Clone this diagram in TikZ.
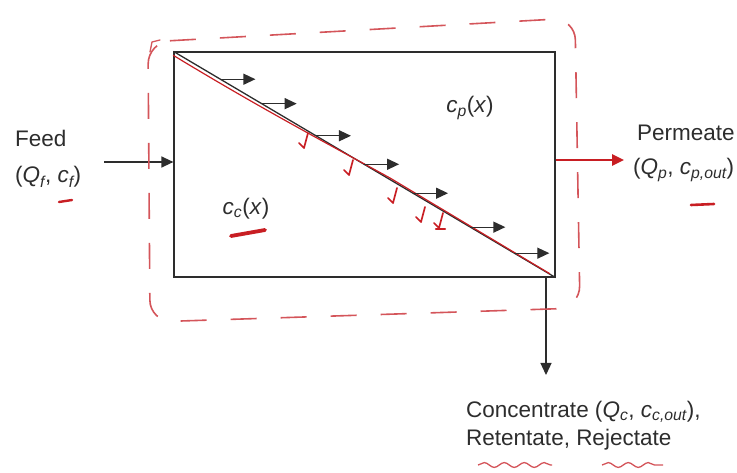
\documentclass[tikz,border=0pt]{standalone}
\usepackage{fontspec}
\setmainfont{Liberation Sans}
\usetikzlibrary{arrows.meta,calc,decorations.pathmorphing}
\definecolor{ink}{RGB}{45,45,45}
\definecolor{pen}{RGB}{200,30,35}
\definecolor{penlight}{RGB}{212,85,90}
\newcommand{\isub}[1]{\textsubscript{\itshape #1}}
\begin{document}
\begin{tikzpicture}[x=1pt,y=-1pt,
  flow/.style={draw=ink, line width=1.3pt, -{Triangle[length=12pt,width=11pt]}},
  lbl/.style={font=\fontsize{22.5}{26}\selectfont, text=ink, inner sep=0pt, anchor=west},
  redpen/.style={draw=pen, line width=1.3pt, line cap=round, line join=round},
  boundary/.style={draw=penlight, line width=1.6pt, dash pattern=on 26pt off 24pt, rounded corners=22pt},
  wavy/.style={draw=penlight, line width=1.3pt, decorate, decoration={snake, amplitude=2.4pt, segment length=20pt}}
]
\useasboundingbox (0,0) rectangle (737,473);
% membrane module
\node[draw=ink, line width=1.2pt, minimum width=381pt, minimum height=225pt, inner sep=0pt] (mem) at (364.5,164.5) {};
\draw[ink, line width=1.3pt] (mem.north west) -- (mem.south east);
% red trace along membrane
\draw[redpen, line width=1.2pt] ($(mem.north west)+(0,4)$) .. controls (260,108) and (330,145) .. (390,178) -- ($(mem.south east)+(-6,-4)$);
% flux arrows
\foreach \t [count=\i] in {0.123,0.231,0.373,0.499,0.627,0.777,0.892} {
  \coordinate (s\i) at ($(mem.north west)!\t!(mem.south east)$);
  \coordinate (e\i) at ($(s\i)+(35,0)$);
  \draw[flow] (s\i) -- (e\i);
}
% red hooks
\foreach \a/\b in {308/133, 353/160, 397/188, 425/207, 443/213} {
  \coordinate (h\a) at (\a,\b);
  \draw[redpen, line width=1.7pt] (h\a) -- ++(-4,15) -- ++(-5,-5);
}
\draw[redpen, line width=2.4pt] (436,229) -- ++(9,0);
% feed
\node[lbl] (feed) at (15,138) {Feed};
\node[lbl] (feedq) at (15,177) {(\textit{Q}\isub{f}, \textit{c}\isub{f})};
\coordinate (fin) at (104,162);
\draw[flow] (fin) -- (fin -| mem.west);
% permeate
\node[lbl] (perm) at (637,133) {Permeate};
\node[lbl] (permq) at (633,170) {(\textit{Q}\isub{p}, \textit{c}\isub{p,out})};
\coordinate (pout) at (624,160);
\draw[pen, line width=2.6pt, -{Triangle[length=12pt,width=11pt]}] (pout -| mem.east) -- (pout);
% concentrate
\coordinate (cout) at (546,375);
\draw[flow] (cout |- mem.south) -- (cout);
\node[lbl] (conc) at (466,412) {Concentrate (\textit{Q}\isub{c}, \textit{c}\isub{c,out}),};
\node[lbl] (ret) at (466,440) {Retentate, Rejectate};
% concentrations
\node[lbl, anchor=center] (cp) at (470,108) {\textit{c}\isub{p}(\textit{x})};
\node[lbl, anchor=center] (cc) at (246,209) {\textit{c}\isub{c}(\textit{x})};
% red underlines
\draw[redpen, line width=2.4pt] (59,202) -- (72,200);
\draw[redpen, line width=3.8pt] (231,236) -- (265,230);
\draw[redpen, line width=2.6pt] (691,205) -- (714,204);
\draw[wavy] (478,465) -- (552,465);
\draw[wavy] (602,465) -- (663,465);
% control volume boundary
\draw[boundary] (148,42) -- (575,18) -- (580,308) -- (150,322) -- cycle;
\draw[redpen, line width=1.3pt, draw=penlight] (150,52) -- (152,42) -- (160,40);
\end{tikzpicture}
\end{document}
